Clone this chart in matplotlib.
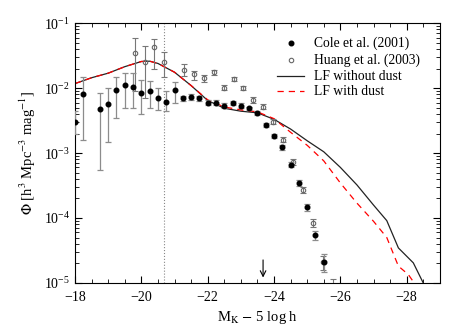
import numpy as np
import matplotlib
matplotlib.use("Agg")
import matplotlib.pyplot as plt
from matplotlib.ticker import MultipleLocator

plt.rcParams['font.family'] = ['Liberation Serif', 'DejaVu Serif']
plt.rcParams['mathtext.fontset'] = 'stix'

# Cole et al. (2001): magnitude, phi, lower and upper error bounds
M_cole = [-18.00, -18.25, -18.75, -19.00, -19.25, -19.50, -19.75, -20.00, -20.25,
          -20.50, -20.75, -21.00, -21.25, -21.50, -21.75, -22.00, -22.25, -22.50,
          -22.75, -23.00, -23.25, -23.50, -23.75, -24.00, -24.25, -24.50, -24.75,
          -25.00, -25.25, -25.50]
phi_cole = [3.06e-3, 8.2e-3, 4.7e-3, 5.7e-3, 9.2e-3, 1.12e-2, 1.03e-2, 8.5e-3, 8.9e-3,
            7.0e-3, 6.1e-3, 9.4e-3, 7.0e-3, 7.2e-3, 7.0e-3, 6.0e-3, 6.0e-3, 5.4e-3,
            5.9e-3, 5.4e-3, 4.9e-3, 4.2e-3, 2.7e-3, 1.85e-3, 1.23e-3, 6.6e-4, 3.5e-4,
            1.48e-4, 5.5e-5, 2.14e-5]
lo_cole = [2.0e-3, 1.6e-3, 5.5e-4, 1.46e-3, 3.5e-3, 4.9e-3, 4.9e-3, 4.0e-3, 4.9e-3,
           4.6e-3, 4.4e-3, 5.9e-3, 6.3e-3, 6.5e-3, 6.4e-3, 5.5e-3, 5.5e-3, 5.0e-3,
           5.5e-3, 5.0e-3, 4.6e-3, 3.9e-3, 2.5e-3, 1.72e-3, 1.13e-3, 6.0e-4, 3.15e-4,
           1.3e-4, 4.6e-5, 1.5e-5]
hi_cole = [4.5e-3, 1.48e-2, 8.4e-3, 1.0e-2, 1.48e-2, 1.74e-2, 1.74e-2, 1.35e-2, 1.29e-2,
           1.0e-2, 8.9e-3, 1.26e-2, 7.6e-3, 8.0e-3, 7.7e-3, 6.5e-3, 6.5e-3, 5.8e-3,
           6.3e-3, 5.8e-3, 5.2e-3, 4.5e-3, 2.9e-3, 1.98e-3, 1.33e-3, 7.2e-4, 3.9e-4,
           1.65e-4, 6.4e-5, 2.75e-5]

# Huang et al. (2003)
M_huang = [-19.80, -20.10, -20.38, -20.68, -21.28, -21.58, -21.88, -22.18, -22.48,
           -22.78, -23.08, -23.38, -23.68, -23.98, -24.28, -24.58, -24.88, -25.18,
           -25.48, -25.78]
phi_huang = [3.47e-2, 2.57e-2, 4.37e-2, 2.5e-2, 1.9e-2, 1.64e-2, 1.43e-2, 1.76e-2, 1.02e-2,
             1.38e-2, 1.0e-2, 6.6e-3, 5.2e-3, 3.06e-3, 1.6e-3, 7.3e-4, 2.7e-4, 8.5e-5,
             2.1e-5, 6.0e-6]
lo_huang = [8.9e-3, 7.1e-3, 1.95e-2, 1.5e-2, 1.55e-2, 1.35e-2, 1.26e-2, 1.62e-2, 9.3e-3,
            1.27e-2, 9.2e-3, 6.0e-3, 4.75e-3, 2.8e-3, 1.46e-3, 6.6e-4, 2.4e-4, 7.3e-5,
            1.6e-5, 3.0e-6]
hi_huang = [5.9e-2, 4.4e-2, 5.75e-2, 3.55e-2, 2.34e-2, 1.86e-2, 1.58e-2, 1.9e-2, 1.11e-2,
            1.49e-2, 1.08e-2, 7.2e-3, 5.7e-3, 3.35e-3, 1.75e-3, 8.0e-4, 3.0e-4, 9.8e-5,
            2.6e-5, 1.15e-5]

# model luminosity functions (log10 phi)
M_model = [-18.0, -18.5, -19.0, -19.5, -20.0, -20.25, -20.5, -21.0, -21.5, -22.0,
           -22.5, -23.0, -23.5, -24.0, -24.5, -25.0, -25.5, -26.0, -26.5, -27.0,
           -27.4, -27.75, -28.2, -28.5]
logphi_nodust = [-1.93, -1.84, -1.77, -1.67, -1.59, -1.585, -1.62, -1.755, -1.96, -2.19,
                 -2.31, -2.355, -2.38, -2.48, -2.63, -2.81, -2.98, -3.22, -3.49, -3.80,
                 -4.04, -4.46, -4.69, -5.0]
M_dust = [-18.0, -18.5, -19.0, -19.5, -20.0, -20.25, -20.5, -21.0, -21.5, -22.0,
          -22.5, -23.0, -23.5, -24.0, -24.5, -25.0, -25.5, -26.0, -26.5, -27.0,
          -27.4, -27.75, -28.05, -28.2]
logphi_dust = [-1.93, -1.84, -1.77, -1.67, -1.59, -1.585, -1.62, -1.755, -1.96, -2.18,
               -2.29, -2.335, -2.365, -2.47, -2.68, -2.88, -3.12, -3.46, -3.77, -4.05,
               -4.30, -4.74, -4.87, -4.98]

M_limit = -20.68   # dotted line
M_arrow = -23.67

fig = plt.figure(figsize=(4.63, 3.31), dpi=100)
ax = fig.add_axes([0.162, 0.145, 0.788, 0.785])

phi_c = np.array(phi_cole)
ax.errorbar(M_cole, phi_c, yerr=[phi_c - np.array(lo_cole), np.array(hi_cole) - phi_c],
            fmt='o', ms=3.3, mfc='black', mec='black', ecolor='#8c8c8c',
            elinewidth=0.9, capsize=2.5, capthick=0.9, zorder=4)
phi_h = np.array(phi_huang)
ax.errorbar(M_huang, phi_h, yerr=[phi_h - np.array(lo_huang), np.array(hi_huang) - phi_h],
            fmt='o', ms=3.2, mfc='none', mec='#666666', mew=0.8, ecolor='#777777',
            elinewidth=0.8, capsize=2.5, capthick=0.8, zorder=3)

ax.plot(M_model, 10**np.array(logphi_nodust), color='#222222', lw=0.9, zorder=2)
ax.plot(M_dust, 10**np.array(logphi_dust), color='red', lw=0.9, ls=(0, (5, 4)), zorder=2)

ax.axvline(M_limit, color='#888888', ls=':', lw=0.8)
ax.annotate('', xy=(M_arrow, 1.1e-5), xytext=(M_arrow, 2.5e-5),
            arrowprops=dict(arrowstyle='->', color='black', lw=0.8))

ax.set_yscale('log')
ax.set_xlim(-18, -29)
ax.set_ylim(1e-5, 1e-1)
ax.xaxis.set_major_locator(MultipleLocator(2))
ax.xaxis.set_minor_locator(MultipleLocator(0.5))
ax.tick_params(which='both', direction='in', top=True, right=True, labelsize=10)
ax.tick_params(which='major', length=5)
ax.tick_params(which='minor', length=3)
ax.tick_params(axis='x', pad=6)
ax.set_xticks([-18, -20, -22, -24, -26, -28])
ax.set_xticklabels(['\u221218', '\u221220', '\u221222', '\u221224', '\u221226', '\u221228'])

ax.set_xlabel(r'M$_{\rm K}$ $-$ 5 log h', fontsize=10.5, labelpad=3)
ax.set_ylabel(r'$\Phi$ [h$^3$ Mpc$^{-3}$ mag$^{-1}$]', fontsize=10.5)

# legend
lx_txt, lx_mark = -25.2, -24.5
ly = [10**-1.31, 10**-1.57, 10**-1.82, 10**-2.05]
ax.plot([lx_mark], [ly[0]], 'o', ms=3.3, color='black')
ax.plot([lx_mark], [ly[1]], 'o', ms=3.2, mfc='none', mec='#666666', mew=0.8)
ax.plot([-24.1, -24.9], [ly[2]] * 2, color='#222222', lw=0.9)
ax.plot([-24.1, -24.9], [ly[3]] * 2, color='red', lw=0.9, ls=(0, (5, 4)))
labels = ['Cole et al. (2001)', 'Huang et al. (2003)', 'LF without dust', 'LF with dust']
for y, lab in zip(ly, labels):
    ax.text(lx_txt, y, lab, fontsize=9.8, va='center', ha='left')

fig.savefig('out.png', dpi=100)
